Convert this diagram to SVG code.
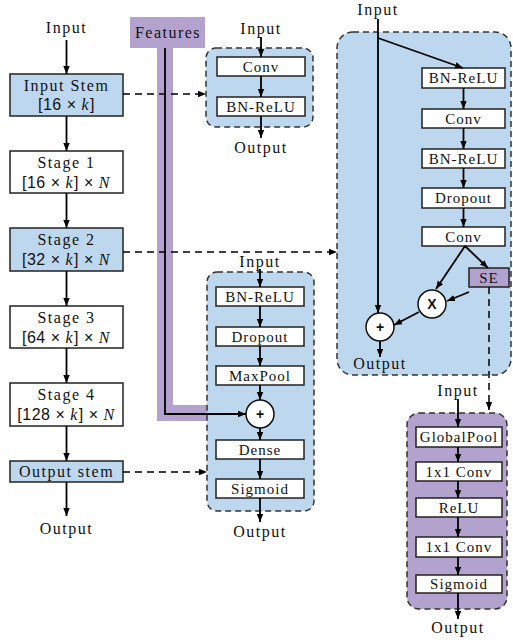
<svg xmlns="http://www.w3.org/2000/svg" width="513" height="643" viewBox="0 0 513 643">
<defs>
<marker id="ah" markerUnits="userSpaceOnUse" markerWidth="8" markerHeight="8" viewBox="0 0 8 8" refX="8" refY="4" orient="auto">
<path d="M0,0.8 L8,4 L0,7.2 Z" fill="#000"/>
</marker>
<style>
text{font-family:'Liberation Serif',serif;fill:#111;text-anchor:middle}
.t{font-size:16px;letter-spacing:1.5px}
.s{font-size:15px;letter-spacing:1px}
.sans{font-family:'Liberation Sans',sans-serif;font-style:normal;letter-spacing:0.5px}
.it{font-family:'Liberation Serif',serif;font-style:italic}
.bb{fill:#bdd7ee;stroke:#222;stroke-width:1.5}
.wb{fill:#fff;stroke:#222;stroke-width:1.5}
.pb{fill:#b3a2cd;stroke:#222;stroke-width:1.5}
.grp{stroke:#333;stroke-width:1.5;stroke-dasharray:6,4}
.ln{stroke:#000;stroke-width:1.8;fill:none}
.dl{stroke:#000;stroke-width:1.5;fill:none;stroke-dasharray:7,5}
.circ{fill:#fff;stroke:#111;stroke-width:1.5}
text.op{font-family:'Liberation Sans',sans-serif;font-size:14px;font-weight:bold}
</style>
</defs>

<g id="features">
<rect x="130" y="17" width="75" height="31" fill="#b3a2cd"/>
<text class="t" x="168" y="38">Features</text>
<polyline points="165,48 165,413 246,413" fill="none" stroke="#b3a2cd" stroke-width="16"/>
</g>

<g id="stem-block">
<rect class="grp" x="206" y="48" width="107" height="79" rx="10" fill="#bdd7ee"/>
<text class="t" x="261" y="34">Input</text>
<rect class="wb" x="217" y="57" width="88" height="19"/>
<text class="s" x="261" y="72">Conv</text>
<rect class="wb" x="217" y="97" width="88" height="19"/>
<text class="s" x="261" y="112">BN-ReLU</text>
<text class="t" x="261" y="153">Output</text>
</g>

<g id="head-block">
<rect class="grp" x="207" y="272" width="107" height="239" rx="10" fill="#bdd7ee"/>
<text class="t" x="260" y="267">Input</text>
<rect class="wb" x="216" y="287" width="88" height="19"/>
<text class="s" x="260" y="302">BN-ReLU</text>
<rect class="wb" x="216" y="327" width="88" height="19"/>
<text class="s" x="260" y="342">Dropout</text>
<rect class="wb" x="216" y="366" width="88" height="19"/>
<text class="s" x="260" y="381">MaxPool</text>
<circle class="circ" cx="260" cy="414" r="14"/>
<text class="op" x="260" y="419">+</text>
<rect class="wb" x="216" y="440" width="88" height="19"/>
<text class="s" x="260" y="455">Dense</text>
<rect class="wb" x="216" y="479" width="88" height="19"/>
<text class="s" x="260" y="494">Sigmoid</text>
<text class="t" x="260" y="537">Output</text>
</g>

<g id="stage-block">
<rect class="grp" x="337" y="32" width="174" height="343" rx="16" fill="#bdd7ee"/>
<text class="t" x="378" y="15">Input</text>
<rect class="wb" x="422" y="68" width="83" height="20"/>
<text class="s" x="463.5" y="83">BN-ReLU</text>
<rect class="wb" x="422" y="109" width="83" height="19"/>
<text class="s" x="463.5" y="124">Conv</text>
<rect class="wb" x="422" y="149" width="83" height="19"/>
<text class="s" x="463.5" y="164">BN-ReLU</text>
<rect class="wb" x="422" y="188" width="83" height="20"/>
<text class="s" x="463.5" y="203">Dropout</text>
<rect class="wb" x="422" y="227" width="83" height="19"/>
<text class="s" x="463.5" y="242">Conv</text>
<rect class="pb" x="469" y="268" width="40" height="19"/>
<text class="s" x="489" y="283">SE</text>
<circle class="circ" cx="432" cy="304" r="14"/>
<text class="op" x="432" y="309">X</text>
<circle class="circ" cx="380" cy="327" r="14"/>
<text class="op" x="380" y="332">+</text>
<text class="t" x="380" y="369">Output</text>
</g>

<g id="se-block">
<rect class="grp" x="407" y="413" width="100" height="196" rx="12" fill="#b3a2cd"/>
<text class="t" x="458" y="396">Input</text>
<rect class="wb" x="416" y="427" width="86" height="20"/>
<text class="s" x="459" y="442">GlobalPool</text>
<rect class="wb" x="416" y="462" width="86" height="19"/>
<text class="s" x="459" y="477">1x1 Conv</text>
<rect class="wb" x="416" y="498" width="86" height="19"/>
<text class="s" x="459" y="513">ReLU</text>
<rect class="wb" x="416" y="537" width="86" height="20"/>
<text class="s" x="459" y="552">1x1 Conv</text>
<rect class="wb" x="416" y="575" width="86" height="18"/>
<text class="s" x="459" y="589">Sigmoid</text>
<text class="t" x="458" y="633">Output</text>
</g>

<g id="input-label"><text class="t" x="66.5" y="33">Input</text></g>
<g id="input-stem">
<rect class="bb" x="10" y="74" width="113" height="42"/>
<text class="t" x="66.5" y="91">Input Stem</text>
<text class="t" x="66.5" y="110"><tspan class="sans">[16 × </tspan><tspan class="it">k</tspan><tspan class="sans">]</tspan></text>
</g>
<g id="stage1">
<rect class="wb" x="10" y="151" width="113" height="42"/>
<text class="t" x="66.5" y="168">Stage 1</text>
<text class="t" x="66.5" y="188"><tspan class="sans">[16 × </tspan><tspan class="it">k</tspan><tspan class="sans">] × </tspan><tspan class="it">N</tspan></text>
</g>
<g id="stage2">
<rect class="bb" x="10" y="228" width="113" height="43"/>
<text class="t" x="66.5" y="245">Stage 2</text>
<text class="t" x="66.5" y="265"><tspan class="sans">[32 × </tspan><tspan class="it">k</tspan><tspan class="sans">] × </tspan><tspan class="it">N</tspan></text>
</g>
<g id="stage3">
<rect class="wb" x="10" y="306" width="113" height="42"/>
<text class="t" x="66.5" y="323">Stage 3</text>
<text class="t" x="66.5" y="343"><tspan class="sans">[64 × </tspan><tspan class="it">k</tspan><tspan class="sans">] × </tspan><tspan class="it">N</tspan></text>
</g>
<g id="stage4">
<rect class="wb" x="10" y="383" width="113" height="43"/>
<text class="t" x="66.5" y="400">Stage 4</text>
<text class="t" x="66.5" y="420"><tspan class="sans">[128 × </tspan><tspan class="it">k</tspan><tspan class="sans">] × </tspan><tspan class="it">N</tspan></text>
</g>
<g id="output-stem">
<rect class="bb" x="10" y="461" width="113" height="21"/>
<text class="t" x="66.5" y="477">Output stem</text>
</g>
<g id="output-label"><text class="t" x="66.5" y="534">Output</text></g>

<g id="connectors">
<line class="ln" x1="66.5" y1="40" x2="66.5" y2="74" marker-end="url(#ah)"/>
<line class="ln" x1="66.5" y1="116" x2="66.5" y2="151" marker-end="url(#ah)"/>
<line class="ln" x1="66.5" y1="193" x2="66.5" y2="228" marker-end="url(#ah)"/>
<line class="ln" x1="66.5" y1="271" x2="66.5" y2="306" marker-end="url(#ah)"/>
<line class="ln" x1="66.5" y1="348" x2="66.5" y2="383" marker-end="url(#ah)"/>
<line class="ln" x1="66.5" y1="426" x2="66.5" y2="461" marker-end="url(#ah)"/>
<line class="ln" x1="66.5" y1="482" x2="66.5" y2="516" marker-end="url(#ah)"/>

<line class="dl" x1="123" y1="94" x2="206" y2="94" marker-end="url(#ah)"/>
<line class="dl" x1="123" y1="252" x2="337" y2="252" marker-end="url(#ah)"/>
<line class="dl" x1="123" y1="472" x2="207" y2="472" stroke-dasharray="7,5,2,5" marker-end="url(#ah)"/>

<polyline class="ln" points="165,48 165,414 246,414" marker-end="url(#ah)"/>

<line class="ln" x1="261" y1="37" x2="261" y2="57" marker-end="url(#ah)"/>
<line class="ln" x1="261" y1="76" x2="261" y2="97" marker-end="url(#ah)"/>
<line class="ln" x1="261" y1="116" x2="261" y2="138" marker-end="url(#ah)"/>

<line class="ln" x1="260" y1="269" x2="260" y2="287" marker-end="url(#ah)"/>
<line class="ln" x1="260" y1="306" x2="260" y2="327" marker-end="url(#ah)"/>
<line class="ln" x1="260" y1="346" x2="260" y2="366" marker-end="url(#ah)"/>
<line class="ln" x1="260" y1="385" x2="260" y2="400" marker-end="url(#ah)"/>
<line class="ln" x1="260" y1="428" x2="260" y2="440" marker-end="url(#ah)"/>
<line class="ln" x1="260" y1="459" x2="260" y2="479" marker-end="url(#ah)"/>
<line class="ln" x1="260" y1="498" x2="260" y2="522" marker-end="url(#ah)"/>

<line class="ln" x1="378" y1="19" x2="378" y2="313" marker-end="url(#ah)"/>
<line class="ln" x1="378" y1="38" x2="463" y2="68" marker-end="url(#ah)"/>
<line class="ln" x1="463.5" y1="88" x2="463.5" y2="109" marker-end="url(#ah)"/>
<line class="ln" x1="463.5" y1="128" x2="463.5" y2="149" marker-end="url(#ah)"/>
<line class="ln" x1="463.5" y1="168" x2="463.5" y2="188" marker-end="url(#ah)"/>
<line class="ln" x1="463.5" y1="208" x2="463.5" y2="227" marker-end="url(#ah)"/>
<line class="ln" x1="465" y1="246" x2="436" y2="289" marker-end="url(#ah)"/>
<line class="ln" x1="465" y1="246" x2="488" y2="268" marker-end="url(#ah)"/>
<line class="ln" x1="469" y1="292" x2="447" y2="301" marker-end="url(#ah)"/>
<line class="ln" x1="419" y1="312" x2="394" y2="325" marker-end="url(#ah)"/>
<line class="ln" x1="380" y1="341" x2="380" y2="357" marker-end="url(#ah)"/>
<line class="dl" x1="489" y1="287" x2="489" y2="410" marker-end="url(#ah)"/>

<line class="ln" x1="458" y1="399" x2="458" y2="427" marker-end="url(#ah)"/>
<line class="ln" x1="458" y1="447" x2="458" y2="462" marker-end="url(#ah)"/>
<line class="ln" x1="458" y1="481" x2="458" y2="498" marker-end="url(#ah)"/>
<line class="ln" x1="458" y1="517" x2="458" y2="537" marker-end="url(#ah)"/>
<line class="ln" x1="458" y1="557" x2="458" y2="575" marker-end="url(#ah)"/>
<line class="ln" x1="458" y1="593" x2="458" y2="619" marker-end="url(#ah)"/>
</g>
</svg>
